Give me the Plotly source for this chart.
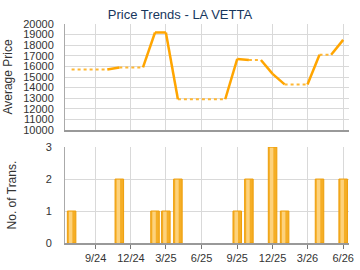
import plotly.graph_objects as go

# ---- data ----
line_months = ["2024-07-01", "2024-10-01", "2024-11-01", "2025-01-01", "2025-02-01",
               "2025-03-01", "2025-04-01", "2025-08-01", "2025-09-01", "2025-10-01",
               "2025-11-01", "2025-12-01", "2026-01-01", "2026-03-01", "2026-04-01",
               "2026-05-01", "2026-06-01"]
line_prices = [15700, 15700, 15900, 15900, 19200,
               19200, 12900, 12900, 16700, 16600,
               16600, 15300, 14300, 14300, 17100,
               17100, 18500]
# whether each segment (between consecutive points) is dotted (estimated)
segment_dotted = [True, False, True, False, False,
                  False, True, False, False, True,
                  False, False, True, False, True,
                  False]

bar_months = ["2024-07-01", "2024-11-01", "2025-02-01", "2025-03-01", "2025-04-01",
              "2025-09-01", "2025-10-01", "2025-12-01", "2026-01-01", "2026-04-01",
              "2026-06-01"]
bar_counts = [1, 2, 1, 1, 2, 1, 2, 3, 1, 2, 2]

tick_vals = ["2024-09-01", "2024-12-01", "2025-03-01", "2025-06-01",
             "2025-09-01", "2025-12-01", "2026-03-01", "2026-06-01"]
tick_text = ["9/24", "12/24", "3/25", "6/25", "9/25", "12/25", "3/26", "6/26"]

price_ticks = list(range(10000, 20001, 1000))
count_ticks = [0, 1, 2, 3]

# ---- build line segments ----
solid_x, solid_y, dot_x, dot_y = [], [], [], []
for i, dotted in enumerate(segment_dotted):
    xs = [line_months[i], line_months[i + 1], None]
    ys = [line_prices[i], line_prices[i + 1], None]
    if dotted:
        dot_x += xs; dot_y += ys
    else:
        solid_x += xs; solid_y += ys

DAY = 86400000
ORANGE = "#FFA500"
FONT = "Liberation Sans, Arial, sans-serif"

fig = go.Figure()
fig.add_trace(go.Scatter(x=dot_x, y=dot_y, mode="lines", connectgaps=False,
                         line=dict(color="#FFB733", width=2, dash="dot"),
                         xaxis="x", yaxis="y", showlegend=False))
fig.add_trace(go.Scatter(x=solid_x, y=solid_y, mode="lines", connectgaps=False,
                         line=dict(color=ORANGE, width=2.5),
                         xaxis="x", yaxis="y", showlegend=False))

fig.add_trace(go.Bar(x=bar_months, y=bar_counts, width=[22 * DAY] * len(bar_counts),
                     marker=dict(color="#F5AE26", line=dict(color="#EE9E0A", width=1)),
                     xaxis="x2", yaxis="y2", showlegend=False))
fig.add_trace(go.Bar(x=bar_months, y=[c - 0.02 for c in bar_counts],
                     width=[9 * DAY] * len(bar_counts),
                     offset=[-7 * DAY] * len(bar_counts),
                     marker=dict(color="#FDD27C", line=dict(width=0)),
                     xaxis="x2", yaxis="y2", showlegend=False))

xr = ["2024-06-14", "2026-06-16"]
common_x = dict(type="date", range=xr, showgrid=True, gridcolor="#D9D9D9", gridwidth=1,
                tickvals=tick_vals, zeroline=False, showline=True,
                linecolor="#999999", linewidth=2)

fig.update_layout(
    width=360, height=270,
    margin=dict(l=65, r=6, t=24, b=27),
    paper_bgcolor="white", plot_bgcolor="white",
    barmode="overlay",
    font=dict(family=FONT, size=11, color="#333333"),
    title=dict(text="Price Trends - LA VETTA", x=0.5, xanchor="center", y=0.962, yanchor="top",
               font=dict(family=FONT, size=13, color="#17365D")),
    xaxis=dict(common_x, domain=[0, 1], anchor="y", showticklabels=False, ticks=""),
    yaxis=dict(domain=[0.516, 1], range=[10000, 20000], tickvals=price_ticks,
               tickformat="d",
               showgrid=True, gridcolor="#D9D9D9", showline=True, linecolor="#AAAAAA",
               linewidth=1, ticks="outside", ticklen=8, tickcolor="rgba(0,0,0,0)",
               zeroline=False,
               title=dict(text="Average Price", font=dict(size=12, color="#333333"), standoff=7)),
    xaxis2=dict(common_x, domain=[0, 1], anchor="y2", ticktext=tick_text,
                ticks="outside", ticklen=4, tickcolor="#777777"),
    yaxis2=dict(domain=[0, 0.438], range=[0, 3], tickvals=count_ticks,
                showgrid=True, gridcolor="#D9D9D9", showline=True, linecolor="#AAAAAA",
                linewidth=1, ticks="outside", ticklen=10, tickcolor="rgba(0,0,0,0)",
                zeroline=False,
                title=dict(text="No. of Trans.", font=dict(size=12, color="#333333"), standoff=26)),
)

fig.write_html("out.html")
